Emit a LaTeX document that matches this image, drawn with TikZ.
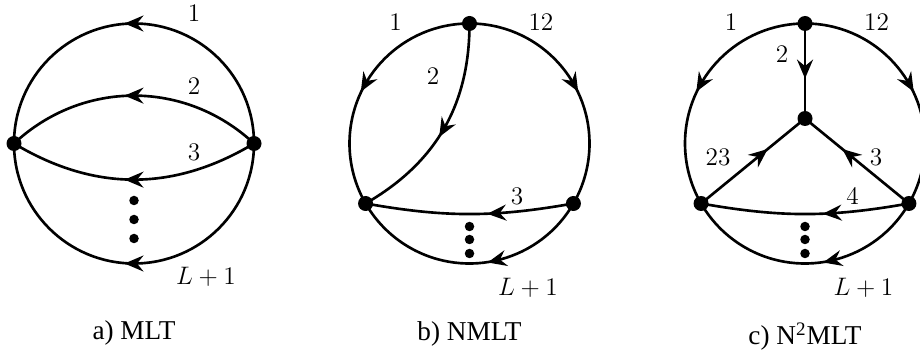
\documentclass[tikz,border=0pt]{standalone}
\usepackage{fontspec}
\newfontfamily\capfont{Liberation Serif}
\usepackage{tikz}
\usetikzlibrary{arrows.meta,decorations.markings}
\tikzset{
  prop/.style={line width=1.5pt},
  midarrow/.style={postaction={decorate}, decoration={markings,
      mark=at position #1 with {\pgftransformxshift{1.9mm}%
        \arrow{Stealth[length=3.8mm,width=3.2mm,inset=1.3mm]}}}},
  midarrow/.default=0.5,
  vtx/.style={circle, fill, inner sep=0pt, minimum size=3mm},
  elldot/.style={circle, fill, inner sep=0pt, minimum size=1.9mm},
  lbl/.style={font=\fontsize{14.4}{17}\selectfont},
  caplbl/.style={font=\capfont\fontsize{15.5}{18}\selectfont}
}
\def\R{2.4}

\begin{document}
\begin{tikzpicture}
  \useasboundingbox (0,0) rectangle (18.4,-7.08);
  % a) MLT
  \begin{scope}[shift={(2.68,-2.87)}]
    \node[vtx] (aL) at (180:\R) {};
    \node[vtx] (aR) at (0:\R) {};
    \draw[prop, midarrow] (aR.center) arc[start angle=0, end angle=180, radius=\R];
    \draw[prop, midarrow] (aR.center) to[bend right=43] (aL.center);
    \draw[prop, midarrow] (aR.center) to[bend left=31] (aL.center);
    \draw[prop, midarrow] (aR.center) arc[start angle=0, end angle=-180, radius=\R];
    \foreach \y [count=\i] in {-1.14,-1.52,-1.9}
      \node[elldot] (adot\i) at (0,\y) {};
    \node[lbl] (a1) at (1.2,2.6) {$1$};
    \node[lbl] (a2) at (1.2,1.14) {$2$};
    \node[lbl] (a3) at (1.2,-0.18) {$3$};
    \node[lbl] (aL1) at (1.44,-2.66) {$L+1$};
    \node[caplbl] (acap) at (0,-3.78) {a) MLT};
  \end{scope}
  % b) NMLT and c) N^2MLT share the outer frame
  \foreach \d/\x/\k in {b/9.39/3, c/16.10/4} {
    \begin{scope}[shift={(\x,-2.87)}]
      \node[vtx] (\d-T) at (90:\R) {};
      \node[vtx] (\d-L) at (210:\R) {};
      \node[vtx] (\d-R) at (330:\R) {};
      \draw[prop, midarrow] (\d-T.center) arc[start angle=90, end angle=210, radius=\R];
      \draw[prop, midarrow] (\d-T.center) arc[start angle=90, end angle=-30, radius=\R];
      \draw[prop, midarrow=0.39] (\d-R.center) arc[start angle=-30, end angle=-150, radius=\R];
      \draw[prop, midarrow=0.37] (\d-R.center) to[bend left=10] (\d-L.center);
      \foreach \y [count=\i] in {-1.66,-1.92,-2.2}
        \node[elldot] (\d-dot\i) at (0,\y) {};
      \node[lbl] (\d-1) at (-1.48,2.43) {$1$};
      \node[lbl] (\d-12) at (1.43,2.43) {$12$};
      \node[lbl] (\d-k) at (0.95,-1.05) {$\k$};
      \node[lbl] (\d-L1) at (1.17,-2.89) {$L+1$};
    \end{scope}
  }
  % b) inner line
  \begin{scope}[shift={(9.39,-2.87)}]
    \draw[prop, midarrow] (b-T.center) to[bend left=30] (b-L.center);
    \node[lbl] (b2) at (-0.73,1.34) {$2$};
    \node[caplbl] (bcap) at (0,-3.8) {b) NMLT};
  \end{scope}
  % c) inner vertex
  \begin{scope}[shift={(16.10,-2.87)}]
    \node[vtx] (c-M) at (0,0.5) {};
    \draw[prop, midarrow=0.48] (c-T.center) -- (c-M.center);
    \draw[prop, midarrow=0.57] (c-L.center) -- (c-M.center);
    \draw[prop, midarrow=0.57] (c-R.center) -- (c-M.center);
    \node[lbl] (c2) at (-0.46,1.78) {$2$};
    \node[lbl] (c23) at (-1.74,-0.28) {$23$};
    \node[lbl] (c3) at (1.42,-0.28) {$3$};
    \node[caplbl] (ccap) at (0,-3.86) {c) N\textsuperscript{2}MLT};
  \end{scope}
\end{tikzpicture}
\end{document}
